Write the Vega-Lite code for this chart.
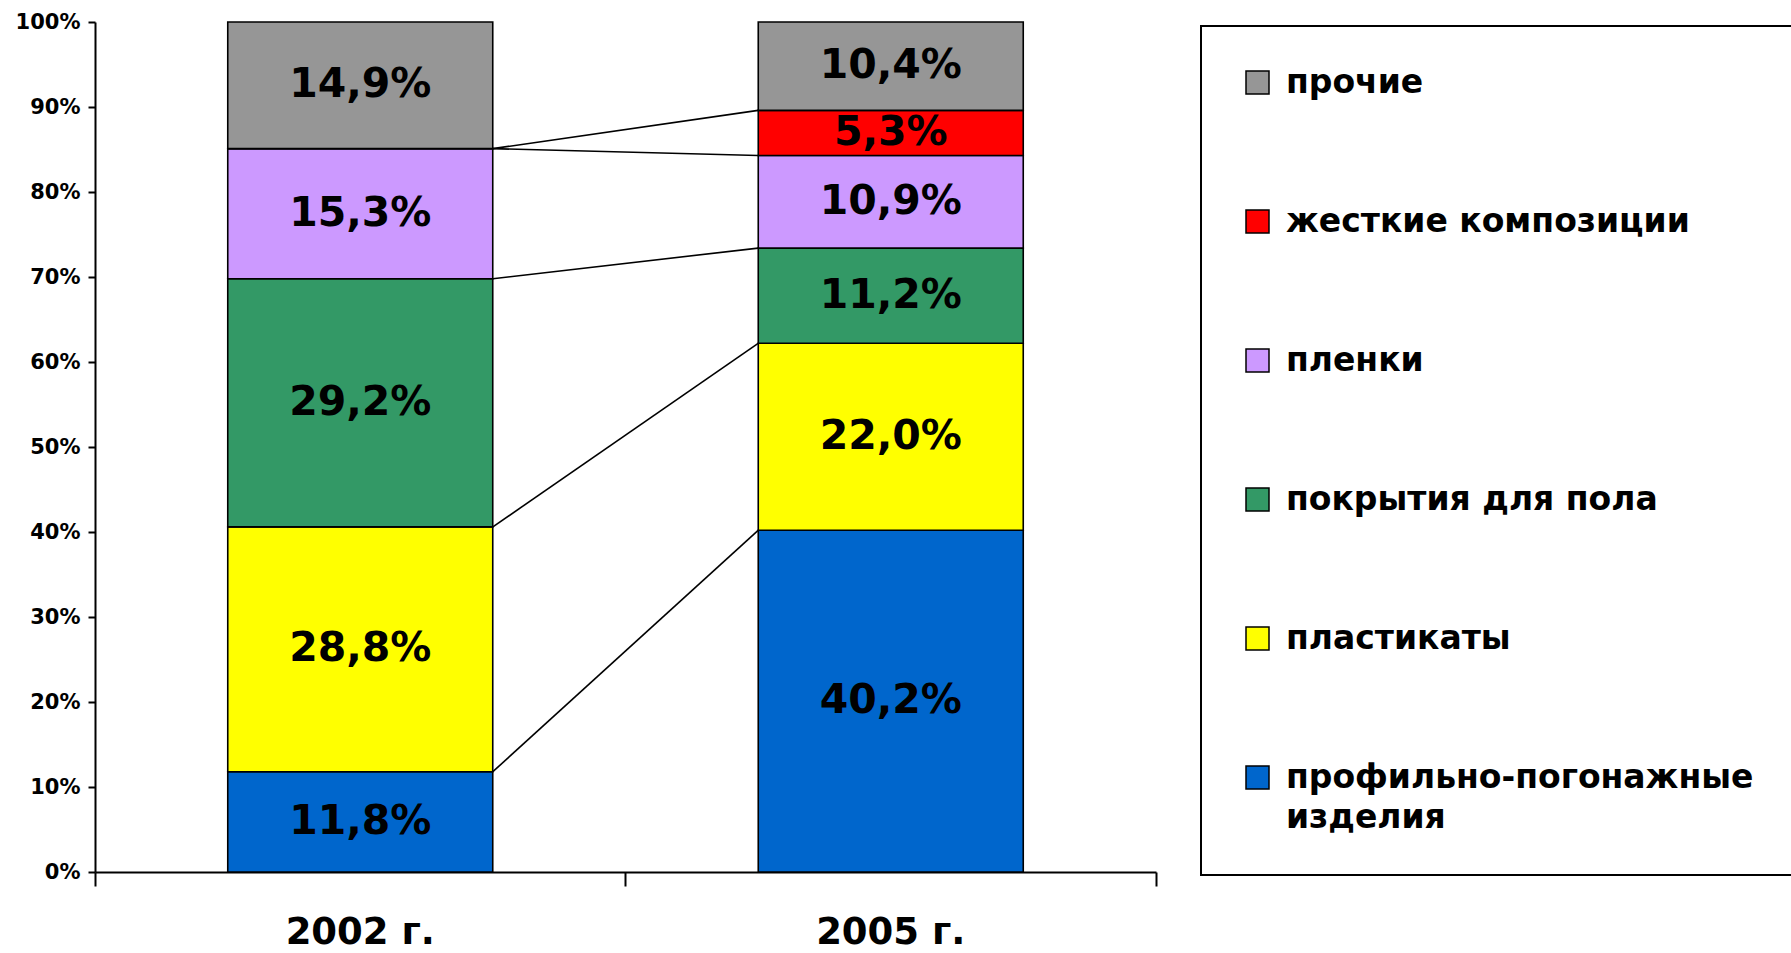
{
  "$schema": "https://vega.github.io/schema/vega-lite/v6.json",
  "width": 1061,
  "height": 850,
  "autosize": {"type": "none"},
  "padding": {"left": 95, "top": 22, "right": 635, "bottom": 81},
  "background": "white",
  "config": {
    "locale": {"number": {"decimal": ",", "thousands": " ", "grouping": [3], "currency": ["", " ₽"]}},
    "view": {"stroke": null},
    "font": "DejaVu Sans",
    "style": {"guide-label": {"lineHeight": 40}},
    "legend": {"strokeWidth": 2}
  },
  "data": {
    "values": [
      {"year": "2002 г.", "category": "профильно-погонажные изделия", "order": 1, "share": 0.118},
      {"year": "2002 г.", "category": "пластикаты", "order": 2, "share": 0.288},
      {"year": "2002 г.", "category": "покрытия для пола", "order": 3, "share": 0.292},
      {"year": "2002 г.", "category": "пленки", "order": 4, "share": 0.153},
      {"year": "2002 г.", "category": "жесткие композиции", "order": 5, "share": 0.0},
      {"year": "2002 г.", "category": "прочие", "order": 6, "share": 0.149},
      {"year": "2005 г.", "category": "профильно-погонажные изделия", "order": 1, "share": 0.402},
      {"year": "2005 г.", "category": "пластикаты", "order": 2, "share": 0.220},
      {"year": "2005 г.", "category": "покрытия для пола", "order": 3, "share": 0.112},
      {"year": "2005 г.", "category": "пленки", "order": 4, "share": 0.109},
      {"year": "2005 г.", "category": "жесткие композиции", "order": 5, "share": 0.053},
      {"year": "2005 г.", "category": "прочие", "order": 6, "share": 0.104}
    ]
  },
  "layer": [
    {
      "mark": {"type": "bar", "stroke": "black", "strokeWidth": 1.6, "width": 265},
      "encoding": {
        "x": {
          "field": "year", "type": "nominal",
          "scale": {"paddingInner": 0, "paddingOuter": 0},
          "axis": {
            "title": null, "bandPosition": 1, "tickExtra": true,
            "domainColor": "black", "domainWidth": 2,
            "tickColor": "black", "tickWidth": 2, "tickSize": 14,
            "labelFont": "DejaVu Sans", "labelFontSize": 37, "labelFontWeight": "bold",
            "labelColor": "black", "labelPadding": 28, "labelAngle": 0
          }
        },
        "y": {
          "field": "share", "type": "quantitative", "stack": "zero",
          "scale": {"domain": [0, 1], "nice": false},
          "axis": {
            "title": null, "grid": false,
            "values": [0, 0.1, 0.2, 0.3, 0.4, 0.5, 0.6, 0.7, 0.8, 0.9, 1],
            "format": ".0%",
            "domainColor": "black", "domainWidth": 2,
            "tickColor": "black", "tickWidth": 2, "tickSize": 7,
            "labelFont": "DejaVu Sans", "labelFontSize": 21, "labelFontWeight": "bold",
            "labelColor": "black", "labelPadding": 8
          }
        },
        "color": {
          "field": "category", "type": "nominal",
          "scale": {
            "domain": ["прочие", "жесткие композиции", "пленки", "покрытия для пола", "пластикаты", "профильно-погонажные изделия"],
            "range": ["#969696", "#FF0000", "#CC99FF", "#339966", "#FFFF00", "#0066CC"]
          },
          "legend": {
            "title": null, "orient": "none", "legendX": 1106, "legendY": 4,
            "direction": "vertical", "symbolType": "square", "symbolSize": 529,
            "symbolStrokeColor": "black", "symbolStrokeWidth": 1.5,
            "labelFont": "DejaVu Sans", "labelFontSize": 33, "labelFontWeight": "bold",
            "labelColor": "black", "labelLimit": 1000, "labelOffset": 12,
            "rowPadding": 105, "padding": 40,
            "strokeColor": "black", "fillColor": "white",
            "labelExpr": "datum.label == 'профильно-погонажные изделия' ? ['профильно-погонажные', 'изделия'] : datum.label"
          }
        },
        "order": {"field": "order", "type": "quantitative"}
      }
    },
    {
      "transform": [
        {"stack": "share", "groupby": ["year"], "sort": [{"field": "order", "order": "ascending"}], "as": ["lo", "hi"]},
        {"filter": "datum.category != 'прочие'"}
      ],
      "mark": {"type": "line", "color": "black", "strokeWidth": 1.6},
      "encoding": {
        "x": {"field": "year", "type": "nominal"},
        "xOffset": {"field": "year", "type": "nominal", "scale": {"type": "point", "domain": ["2005 г.", "2002 г."], "padding": 0.5}},
        "y": {"field": "hi", "type": "quantitative"},
        "detail": {"field": "category", "type": "nominal"}
      }
    },
    {
      "transform": [{"filter": "datum.share > 0"}],
      "mark": {"type": "text", "font": "DejaVu Sans", "fontSize": 41, "fontWeight": "bold", "color": "black", "baseline": "middle"},
      "encoding": {
        "x": {"field": "year", "type": "nominal"},
        "y": {"field": "share", "type": "quantitative", "stack": "zero", "bandPosition": 0.5},
        "detail": {"field": "category", "type": "nominal"},
        "order": {"field": "order", "type": "quantitative"},
        "text": {"field": "share", "type": "quantitative", "format": ".1%"}
      }
    }
  ]
}
